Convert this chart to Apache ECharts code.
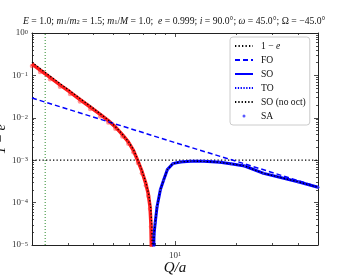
<!DOCTYPE html>
<html><head><meta charset="utf-8">
<script src="https://cdn.jsdelivr.net/npm/echarts@6/dist/echarts.min.js"></script>
<style>html,body{margin:0;padding:0;background:#fff}#c{width:340px;height:276px}</style>
</head><body><div id="c"></div>
<script>
// ---- data ----
const qNeg   = [2.00, 2.19, 2.45, 2.74, 3.07, 3.43, 3.85, 4.31, 4.72, 5.11, 5.53, 5.91, 6.26, 6.59, 6.89, 7.20, 7.40, 7.55, 7.63, 7.68];
const soNeg  = [0.186, 0.134, 0.090, 0.060, 0.0405, 0.027, 0.018, 0.012, 0.0086, 0.0061, 0.0040, 0.0027, 0.0017, 0.00095, 0.00055, 0.00028, 0.00016, 0.00008, 0.00003, 0.000005];
const qNoOct = [2.00, 2.19, 2.45, 2.74, 3.07, 3.43, 3.85, 4.31, 4.72, 5.11, 5.53, 5.91, 6.26, 6.59, 6.89, 7.20, 7.42, 7.60, 7.70, 7.76];
const noOctNeg = [0.205, 0.145, 0.096, 0.064, 0.043, 0.0285, 0.019, 0.0125, 0.0089, 0.0062, 0.0041, 0.0028, 0.0018, 0.00100, 0.00058, 0.00030, 0.00017, 0.00008, 0.00003, 0.000005];
const qPos   = [7.84, 7.90, 8.00, 8.17, 8.48, 8.80, 9.18, 9.75, 10.6, 11.9, 13.8, 16.6, 18.7, 21.9, 27.1, 39.9, 50.0];
const soPos  = [0.000004, 0.000018, 0.000033, 0.00008, 0.00020, 0.00034, 0.00060, 0.00083, 0.00091, 0.00095, 0.00094, 0.00089, 0.00082, 0.00073, 0.00049, 0.00031, 0.00023];
const qFO    = [2, 5, 10, 20, 50];
const foVals = [0.0293, 0.0074, 0.0026, 0.00094, 0.000235];
const oneMinusE = 0.001;
const qGreen = 2.32;
const xRange = [2, 50];
const yRange = [1e-5, 1];
const xMajorTicks = [10];
const yMajorTicks = [1e-5, 1e-4, 1e-3, 1e-2, 1e-1, 1];
const xMinorTicks = [2, 3, 4, 5, 6, 7, 8, 9, 20, 30, 40, 50];
const yMinorTicks = [];
for (let d = -5; d < 0; d++) for (let k = 2; k <= 9; k++) yMinorTicks.push(k * Math.pow(10, d));

const zip = (a, b) => a.map((v, i) => [v, b[i]]);
const SERIF = 'Liberation Serif, DejaVu Serif, serif';
const AX = '#222';

function supLabel(v) {
  const e = Math.round(Math.log10(v));
  return '10{sup|' + (e < 0 ? '\u2212' + (-e) : e) + '}';
}
const labelRich = { sup: { fontSize: 6.5, fontFamily: SERIF, color: '#333', verticalAlign: 'top', lineHeight: 6, padding: [0, 0, 6, 0] } };

function xAxisDef(pos, major) {
  return {
    type: 'log', logBase: 10, min: xRange[0], max: xRange[1], position: pos, gridIndex: 0,
    axisLine: { show: major, onZero: false, lineStyle: { color: AX, width: 1 } },
    axisTick: { show: true, inside: true, length: major ? 4 : 2, customValues: major ? xMajorTicks : xMinorTicks, lineStyle: { color: AX, width: 0.8 } },
    axisLabel: (major && pos === 'bottom') ? { show: true, customValues: xMajorTicks, formatter: supLabel, margin: 6, fontFamily: SERIF, fontSize: 9, color: '#333', rich: labelRich } : { show: false },
    splitLine: { show: false },
    name: (major && pos === 'bottom') ? 'Q/a' : '',
    nameLocation: 'middle', nameGap: 16, nameMoveOverlap: false,
    nameTextStyle: { fontFamily: SERIF, fontStyle: 'italic', fontSize: 15, color: '#111' }
  };
}
function yAxisDef(pos, major) {
  return {
    type: 'log', logBase: 10, min: yRange[0], max: yRange[1], position: pos, gridIndex: 0,
    axisLine: { show: major, onZero: false, lineStyle: { color: AX, width: 1 } },
    axisTick: { show: true, inside: true, length: major ? 4 : 2, customValues: major ? yMajorTicks : yMinorTicks, lineStyle: { color: AX, width: 0.8 } },
    axisLabel: (major && pos === 'left') ? { show: true, customValues: yMajorTicks, formatter: supLabel, margin: 4, fontFamily: SERIF, fontSize: 9, color: '#333', rich: labelRich } : { show: false },
    splitLine: { show: false },
    name: (major && pos === 'left') ? '1 \u2212 e' : '',
    nameLocation: 'middle', nameGap: 24, nameRotate: 90, nameMoveOverlap: false,
    nameTextStyle: { fontFamily: SERIF, fontStyle: 'italic', fontSize: 14, color: '#111' }
  };
}
const noSym = { color: 'rgba(0,0,0,0)', borderWidth: 0, opacity: 0 };

const chart = echarts.init(document.getElementById('c'), null, { renderer: 'canvas' });
chart.setOption({
  animation: false,
  backgroundColor: '#fff',
  title: {
    text: '{i|E} = 1.0; {i|m}{s|1}/{i|m}{s|2} = 1.5; {i|m}{s|1}/{i|M} = 1.0;  {i|e} = 0.999; {i|i} = 90.0\u00b0; {i|\u03c9} = 45.0\u00b0; \u03a9 = \u221245.0\u00b0',
    left: 23, top: 16, padding: 0,
    textStyle: {
      fontFamily: SERIF, fontSize: 9.7, fontWeight: 'normal', color: '#111',
      rich: {
        i: { fontFamily: SERIF, fontSize: 9.7, fontStyle: 'italic', color: '#111' },
        s: { fontFamily: SERIF, fontSize: 6.5, color: '#111', verticalAlign: 'bottom', lineHeight: 6 }
      }
    }
  },
  grid: { left: 32, right: 22, top: 33, bottom: 31, containLabel: false, outerBoundsMode: 'none' },
  xAxis: [xAxisDef('bottom', true), xAxisDef('bottom', false), xAxisDef('top', true), xAxisDef('top', false)],
  yAxis: [yAxisDef('left', true), yAxisDef('left', false), yAxisDef('right', true), yAxisDef('right', false)],
  legend: {
    data: [
      { name: '1 \u2212 e', itemStyle: noSym }, { name: 'FO', itemStyle: noSym }, { name: 'SO', itemStyle: noSym },
      { name: 'TO', itemStyle: noSym }, { name: 'SO (no oct)', itemStyle: noSym }, { name: 'SA' }
    ],
    orient: 'vertical', left: 230, top: 37,
    itemWidth: 18, itemHeight: 3, itemGap: 2,
    padding: [3, 4, 3, 4],
    borderColor: '#ccc', borderWidth: 1, borderRadius: 3, backgroundColor: 'rgba(255,255,255,0.8)',
    textStyle: { fontFamily: SERIF, fontSize: 9.6, color: '#111', lineHeight: 12, padding: [0, 0, 0, 3],
      rich: { i: { fontFamily: SERIF, fontSize: 9.6, fontStyle: 'italic', color: '#111' } } },
    formatter: function (n) { return n === '1 \u2212 e' ? '1 \u2212 {i|e}' : n; }
  },
  series: [
    { name: '1 \u2212 e', type: 'line', showSymbol: false, symbol: 'none', data: [[xRange[0], oneMinusE], [xRange[1], oneMinusE]],
      lineStyle: { color: '#000', width: 1.3, type: [1.3, 2.2] }, itemStyle: { color: '#000' }, z: 3 },
    { name: 'green', type: 'line', showSymbol: false, symbol: 'none', data: [[qGreen, yRange[0]], [qGreen, yRange[1]]],
      lineStyle: { color: '#2a8a2a', width: 1, type: [1, 2] }, z: 2 },
    { name: 'SO-neg', type: 'line', showSymbol: false, symbol: 'none', data: zip(qNeg, soNeg), clip: true,
      lineStyle: { color: '#ff1a1a', width: 3.5 }, z: 4 },
    { name: 'SA-neg', type: 'scatter', symbol: 'circle', symbolSize: 4.5, data: zip(qNeg, soNeg.map(v => v * 0.9)), clip: true,
      itemStyle: { color: 'rgba(255,40,40,0.6)' }, z: 4 },
    { name: 'FO', type: 'line', showSymbol: false, symbol: 'none', data: zip(qFO, foVals),
      lineStyle: { color: '#0000ff', width: 1.5, type: [5, 3] }, itemStyle: { color: '#0000ff' }, z: 5 },
    { name: 'SO', type: 'line', showSymbol: false, symbol: 'none', data: zip(qPos, soPos), clip: true,
      lineStyle: { color: '#0000ff', width: 3 }, itemStyle: { color: '#0000ff' }, z: 5 },
    { name: 'TO', type: 'line', showSymbol: false, symbol: 'none', data: zip(qPos, soPos), clip: true,
      lineStyle: { color: '#0000ff', width: 1.3, type: [1.3, 1.5] }, itemStyle: { color: '#0000ff' }, z: 5 },
    { name: 'SO (no oct)', type: 'line', showSymbol: false, symbol: 'none', data: zip(qNoOct, noOctNeg).concat(zip(qPos, soPos)), clip: true,
      lineStyle: { color: '#000', width: 1.3, type: [1.3, 2] }, itemStyle: { color: '#000' }, z: 7 },
    { name: 'SA', type: 'scatter', symbol: 'circle', symbolSize: 3, data: zip(qPos, soPos), clip: true,
      itemStyle: { color: '#3030ff', opacity: 0.8 }, z: 6 }
  ]
});
</script></body></html>
